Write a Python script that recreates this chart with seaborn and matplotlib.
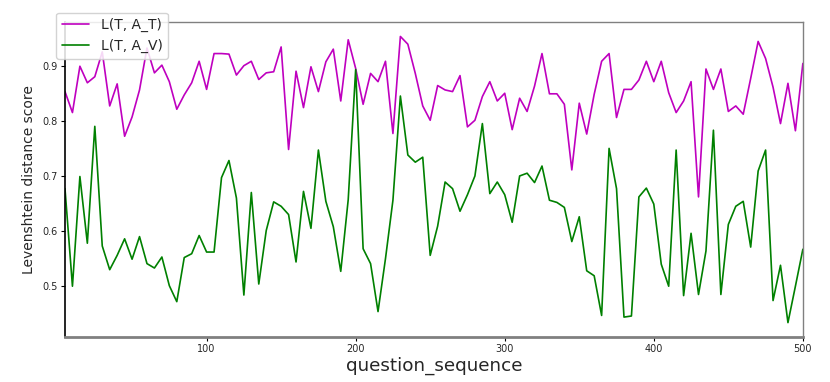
import numpy as np
import pandas as pd
import matplotlib
matplotlib.use("Agg")
import matplotlib.pyplot as plt
import seaborn as sns

question_sequence = list(range(5, 505, 5))

l_t_at = [
    0.853, 0.815, 0.899, 0.869, 0.880, 0.925, 0.827, 0.867, 0.772, 0.807,
    0.856, 0.932, 0.887, 0.901, 0.871, 0.821, 0.847, 0.869, 0.908, 0.857,
    0.922, 0.922, 0.921, 0.883, 0.900, 0.908, 0.875, 0.887, 0.889, 0.934,
    0.748, 0.890, 0.824, 0.898, 0.853, 0.907, 0.930, 0.836, 0.947, 0.895,
    0.830, 0.886, 0.871, 0.908, 0.777, 0.953, 0.939, 0.886, 0.827, 0.801,
    0.864, 0.856, 0.853, 0.882, 0.789, 0.801, 0.844, 0.871, 0.836, 0.850,
    0.784, 0.841, 0.817, 0.863, 0.922, 0.849, 0.849, 0.830, 0.711, 0.832,
    0.776, 0.848, 0.908, 0.922, 0.806, 0.857, 0.857, 0.874, 0.908, 0.871,
    0.908, 0.851, 0.815, 0.836, 0.871, 0.662, 0.894, 0.857, 0.894, 0.817,
    0.827, 0.812, 0.877, 0.944, 0.913, 0.861, 0.795, 0.868, 0.782, 0.904,
]

l_t_av = [
    0.677, 0.500, 0.699, 0.578, 0.790, 0.573, 0.530, 0.556, 0.586, 0.549,
    0.590, 0.541, 0.533, 0.553, 0.501, 0.472, 0.552, 0.559, 0.592, 0.562,
    0.562, 0.697, 0.728, 0.660, 0.484, 0.670, 0.504, 0.601, 0.653, 0.645,
    0.630, 0.544, 0.672, 0.605, 0.747, 0.654, 0.608, 0.527, 0.657, 0.893,
    0.568, 0.541, 0.454, 0.550, 0.656, 0.845, 0.738, 0.725, 0.734, 0.556,
    0.609, 0.689, 0.677, 0.636, 0.666, 0.700, 0.795, 0.668, 0.689, 0.666,
    0.616, 0.700, 0.705, 0.688, 0.718, 0.656, 0.652, 0.643, 0.581, 0.626,
    0.528, 0.519, 0.447, 0.750, 0.677, 0.444, 0.446, 0.662, 0.678, 0.649,
    0.540, 0.500, 0.747, 0.483, 0.596, 0.485, 0.564, 0.783, 0.485, 0.612,
    0.645, 0.654, 0.571, 0.709, 0.747, 0.474, 0.538, 0.434, 0.500, 0.567,
]

series_names = ["L(T, A_T)", "L(T, A_V)"]
series_colors = ["#bf00bf", "#008000"]

df = pd.DataFrame({
    "question_sequence": question_sequence * 2,
    "score": l_t_at + l_t_av,
    "series": [series_names[0]] * len(l_t_at) + [series_names[1]] * len(l_t_av),
})

sns.set_style("white")
plt.rcParams["font.family"] = ["DejaVu Sans"]

fig = plt.figure(figsize=(8.3, 3.82), dpi=100)
ax = fig.add_axes([0.0783, 0.118, 0.889, 0.824])

sns.lineplot(data=df, x="question_sequence", y="score", hue="series",
             palette=dict(zip(series_names, series_colors)), linewidth=1.2,
             ax=ax, legend=True)

ax.set_xlim(5, 500)
ax.margins(y=0.05)
ax.set_xticks([100, 200, 300, 400, 500])
ax.set_yticks([0.5, 0.6, 0.7, 0.8, 0.9])
ax.tick_params(axis="both", labelsize=7, length=3, width=0.8, color="black",
               left=True, bottom=True, pad=2)
ax.set_xlabel("question_sequence", fontsize=13.2, labelpad=2)
ax.set_ylabel("Levenshtein distance score", fontsize=10, labelpad=5)

ax.spines["left"].set_color("black")
ax.spines["left"].set_linewidth(1.2)
ax.spines["bottom"].set_color("#808080")
ax.spines["bottom"].set_linewidth(2.0)
for s in ["top", "right"]:
    ax.spines[s].set_color("#808080")
    ax.spines[s].set_linewidth(1.0)

leg = ax.legend(loc="upper left", bbox_to_anchor=(-0.012, 1.03), fontsize=10,
                frameon=True, handlelength=2.0, borderaxespad=0.0)
leg.get_frame().set_edgecolor("#cccccc")
leg.get_frame().set_alpha(0.85)

fig.savefig("out.png", dpi=100)
